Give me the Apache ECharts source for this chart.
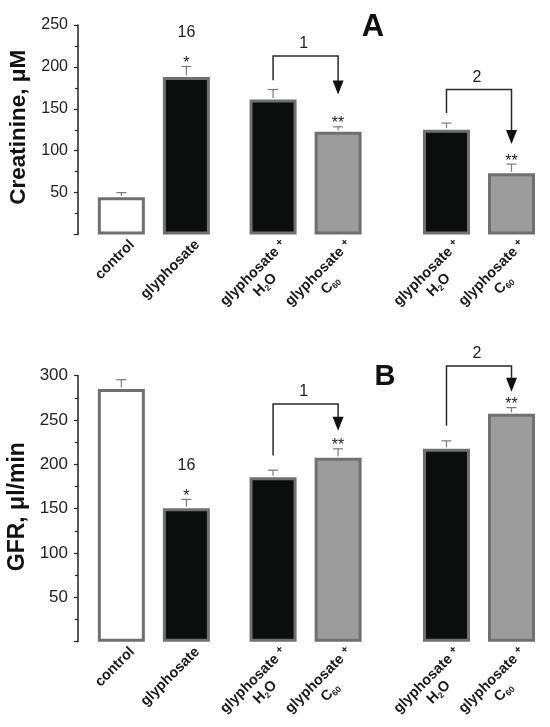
<!DOCTYPE html>
<html>
<head>
<meta charset="utf-8">
<script src="https://cdn.jsdelivr.net/npm/echarts@6/dist/echarts.min.js"></script>
<style>
  html, body { margin: 0; padding: 0; background: #fff; }
  #chart { width: 550px; height: 727px; }
</style>
</head>
<body>
<div id="chart"></div>
<script>
// groups shown on both panels, left to right
const groups = ['control', 'glyphosate', 'glyphosate + H2O', 'glyphosate + C60', 'glyphosate + H2O', 'glyphosate + C60'];
const groupKind = ['control', 'glyphosate', 'h2o', 'c60', 'h2o', 'c60'];
// empty category slots in front of each bar (gives the uneven spacing)
const emptySlotsBefore = [2, 2, 3, 2, 4, 2];

// panel A: creatinine, uM (mean and upper error)
const creatinine = [44.5, 188, 161, 122.5, 125, 73];
const creatinineErr = [5.5, 12.5, 12, 6, 8, 11];
// panel B: GFR, ul/min
const gfr = [285, 150.5, 185.5, 207.5, 217.5, 257];
const gfrErr = [10.5, 10, 8, 10, 9, 7];

const signifA = ['', '*', '', '**', '', '**'];
const signifB = ['', '*', '', '**', '', '**'];
const countA = ['', '16', '', '', '', ''];
const countB = ['', '16', '', '', '', ''];

// comparison arrows (levels in axis units)
const arrowsA = [
  { label: '1', from: 2, to: 3, start: 184, top: 213, tip: 167 },
  { label: '2', from: 4, to: 5, start: 145, top: 173, tip: 108 }
];
const arrowsB = [
  { label: '1', from: 2, to: 3, start: 210, top: 268, tip: 238 },
  { label: '2', from: 4, to: 5, start: 243.5, top: 311, tip: 282 }
];

const FONT = '"Liberation Sans", Arial, Helvetica, sans-serif';
const fills = { control: '#ffffff', glyphosate: '#0c0e0e', h2o: '#0c0e0e', c60: '#9c9c9c' };

const categories = [];
const slotIndex = [];
groups.forEach((g, i) => {
  for (let k = 0; k < emptySlotsBefore[i]; k++) categories.push('');
  slotIndex.push(categories.length);
  categories.push(g);
});

function labelText(name) {
  if (!name) return '';
  if (name.indexOf(' + ') > 0) {
    const parts = name.split(' + ');
    const m = parts[1].match(/^([A-Z])(\d+)(.*)$/);
    let second = '{t|' + m[1] + '}{s|' + m[2] + '}';
    if (m[3]) second += '{t|' + m[3] + '}';
    return '{t|' + parts[0] + ' }{p|+}\n' + second;
  }
  return '{t|' + name + '}\n{t| }';
}

const chart = echarts.init(document.getElementById('chart'));

function xAxisFor(gridIndex) {
  return {
    type: 'category',
    gridIndex: gridIndex,
    data: categories,
    boundaryGap: false,
    axisLine: { show: false },
    axisTick: { show: false },
    splitLine: { show: false },
    axisLabel: {
      interval: 0,
      rotate: 45,
      margin: -3,
      padding: [48, 0, 0, 0],
      formatter: labelText,
      rich: {
        t: { fontFamily: FONT, fontSize: 14.5, fontWeight: 'bold', lineHeight: 17, align: 'center', color: '#1a1a1a' },
        s: { fontFamily: FONT, fontSize: 8.5, fontWeight: 'bold', lineHeight: 10, align: 'center', verticalAlign: 'bottom', color: '#1a1a1a' },
        p: { fontFamily: FONT, fontSize: 10.5, fontWeight: 'bold', lineHeight: 12, align: 'center', verticalAlign: 'top', color: '#1a1a1a' }
      }
    }
  };
}

function yAxisFor(gridIndex, max, name, nameSize, namePad, labelSize, nameGap) {
  return {
    type: 'value',
    gridIndex: gridIndex,
    min: 0,
    max: max,
    interval: 50,
    name: name,
    nameLocation: 'middle',
    nameGap: nameGap,
    nameTextStyle: { fontFamily: FONT, fontSize: nameSize, fontWeight: 'bold', color: '#111', padding: [0, 0, 0, namePad] },
    axisLine: { show: true, lineStyle: { color: '#222', width: 1.5 } },
    axisTick: { show: true, length: 4, lineStyle: { color: '#222', width: 1.2 } },
    minorTick: { show: true, splitNumber: 2, length: 3, lineStyle: { color: '#222', width: 1.2 } },
    splitLine: { show: false },
    axisLabel: { showMinLabel: false, margin: 10, fontFamily: FONT, fontSize: labelSize, color: '#222' }
  };
}

function barSeries(gridIndex, values) {
  return {
    type: 'bar',
    xAxisIndex: gridIndex,
    yAxisIndex: gridIndex,
    barWidth: 47,
    clip: false,
    silent: true,
    data: categories.map((c, k) => {
      const i = slotIndex.indexOf(k);
      if (i < 0) return '-';
      return {
        value: values[i],
        itemStyle: { color: fills[groupKind[i]], borderColor: '#707070', borderWidth: 3 }
      };
    })
  };
}

function errorSeries(gridIndex, values, errs, marks, counts) {
  return {
    type: 'custom',
    xAxisIndex: gridIndex,
    yAxisIndex: gridIndex,
    clip: false,
    silent: true,
    z: 3,
    data: values.map((v, i) => [slotIndex[i], v, errs[i], i]),
    renderItem: function (params, api) {
      const i = api.value(3);
      const base = api.coord([api.value(0), api.value(1)]);
      const top = api.coord([api.value(0), api.value(1) + api.value(2)]);
      const st = { stroke: '#7a7a7a', lineWidth: 1.2 };
      const children = [
        { type: 'line', shape: { x1: base[0], y1: base[1] - 1.5, x2: top[0], y2: top[1] }, style: st },
        { type: 'line', shape: { x1: top[0] - 5, y1: top[1], x2: top[0] + 5, y2: top[1] }, style: st }
      ];
      if (marks[i]) {
        children.push({
          type: 'text', x: top[0], y: top[1] - 3,
          style: { text: marks[i], fontFamily: FONT, fontSize: 16, fill: '#222', align: 'center', verticalAlign: 'middle' }
        });
      }
      if (counts[i]) {
        children.push({
          type: 'text', x: top[0], y: top[1] - 34,
          style: { text: counts[i], fontFamily: FONT, fontSize: 16, fill: '#222', align: 'center', verticalAlign: 'middle' }
        });
      }
      return { type: 'group', children: children };
    }
  };
}

function arrowSeries(gridIndex, arrows) {
  return {
    type: 'custom',
    xAxisIndex: gridIndex,
    yAxisIndex: gridIndex,
    clip: false,
    silent: true,
    z: 4,
    data: arrows.map((a, i) => [slotIndex[a.from], a.start, slotIndex[a.to], a.top, a.tip, i]),
    renderItem: function (params, api) {
      const a = arrows[api.value(5)];
      const p0 = api.coord([api.value(0), api.value(1)]);
      const p1 = api.coord([api.value(0), api.value(3)]);
      const p2 = api.coord([api.value(2), api.value(3)]);
      const tip = api.coord([api.value(2), api.value(4)]);
      const headLen = 14, headHalf = 5.5;
      return {
        type: 'group',
        children: [
          {
            type: 'polyline',
            shape: { points: [p0, p1, p2, [tip[0], tip[1] - headLen + 1]] },
            style: { stroke: '#2a2a2a', lineWidth: 1.5, fill: null }
          },
          {
            type: 'polygon',
            shape: { points: [[tip[0] - headHalf, tip[1] - headLen], [tip[0] + headHalf, tip[1] - headLen], [tip[0], tip[1]]] },
            style: { fill: '#111' }
          },
          {
            type: 'text', x: (p1[0] + p2[0]) / 2 - 2, y: p1[1] - 12,
            style: { text: a.label, fontFamily: FONT, fontSize: 16, fill: '#222', align: 'center', verticalAlign: 'middle' }
          }
        ]
      };
    }
  };
}

chart.setOption({
  animation: false,
  backgroundColor: '#ffffff',
  textStyle: { fontFamily: FONT },
  title: [
    { text: 'A', left: 373, top: 12, textAlign: 'center', padding: 0, textStyle: { fontFamily: FONT, fontSize: 31, fontWeight: 'bold', color: '#111' } },
    { text: 'B', left: 385, top: 362, textAlign: 'center', padding: 0, textStyle: { fontFamily: FONT, fontSize: 29, fontWeight: 'bold', color: '#111' } }
  ],
  grid: [
    { left: 78, right: 38.5, top: 25, height: 209.5, containLabel: false, outerBoundsMode: 'none' },
    { left: 78, right: 38.5, top: 375.7, height: 266, containLabel: false, outerBoundsMode: 'none' }
  ],
  xAxis: [xAxisFor(0), xAxisFor(1)],
  yAxis: [
    yAxisFor(0, 250, 'Creatinine, μM', 22.5, 5, 16, 46),
    yAxisFor(1, 300, 'GFR, μl/min', 23, 4, 17, 47)
  ],
  series: [
    barSeries(0, creatinine),
    errorSeries(0, creatinine, creatinineErr, signifA, countA),
    arrowSeries(0, arrowsA),
    barSeries(1, gfr),
    errorSeries(1, gfr, gfrErr, signifB, countB),
    arrowSeries(1, arrowsB)
  ]
});
</script>
</body>
</html>
